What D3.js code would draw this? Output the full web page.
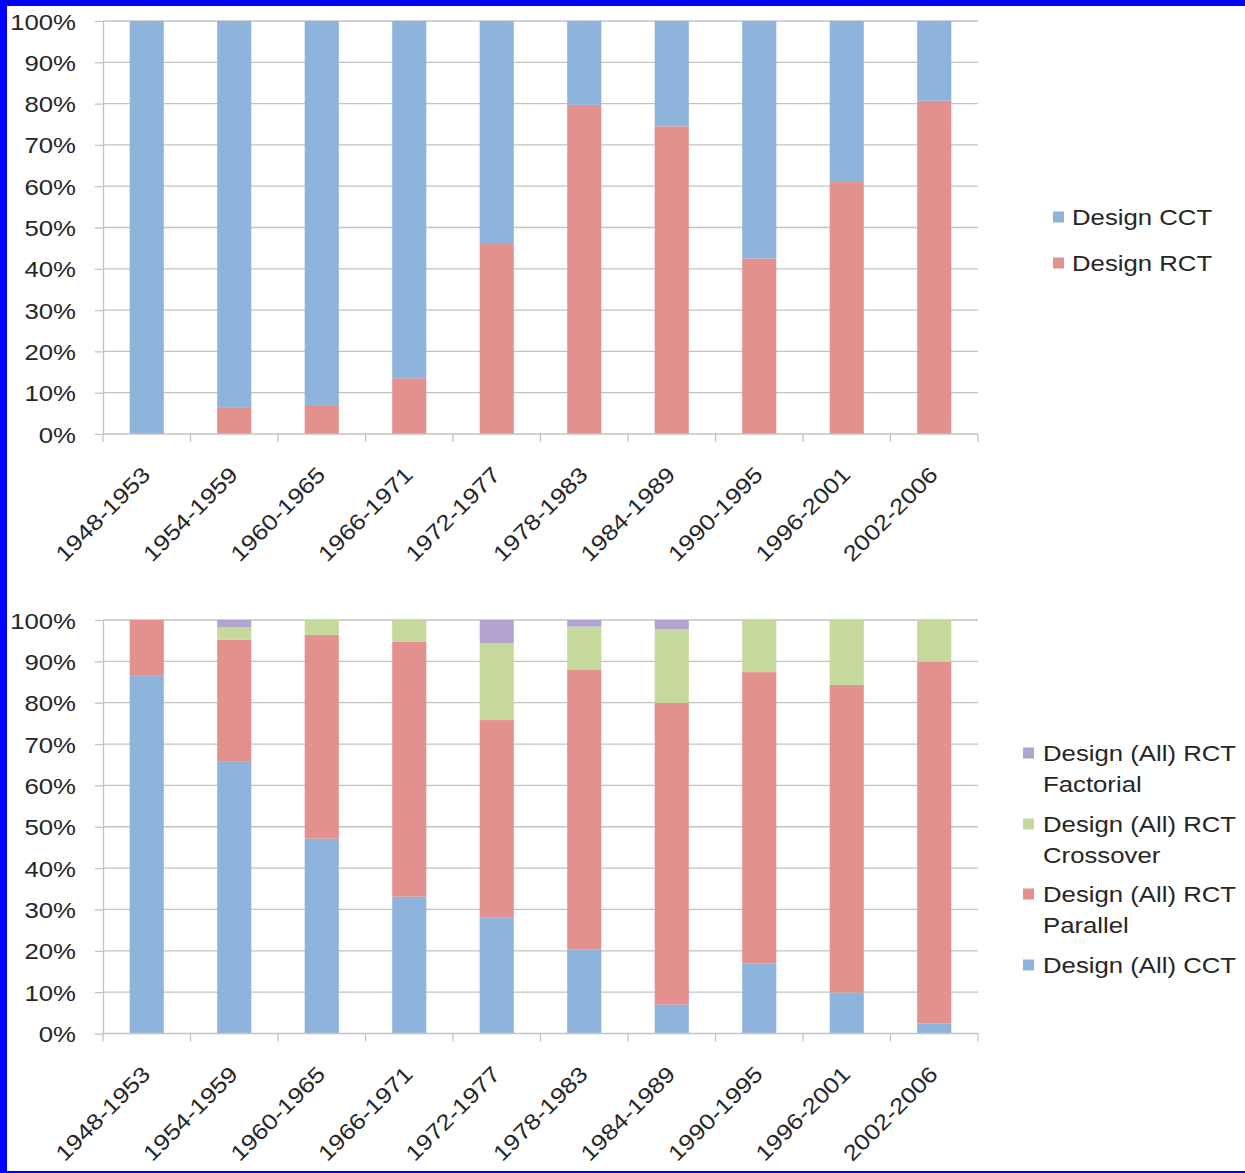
<!DOCTYPE html>
<html>
<head>
<meta charset="utf-8">
<script src="https://cdn.jsdelivr.net/npm/d3@7/dist/d3.min.js"></script>
<style>
  html, body { margin: 0; padding: 0; background: #fff; }
  svg { display: block; }
  text { font-family: "Liberation Sans", Arial, sans-serif; fill: #262626; }
</style>
</head>
<body>
<svg id="fig" width="1245" height="1173"></svg>
<script>
// Period labels shared by both panels
const periods = ["1948-1953", "1954-1959", "1960-1965", "1966-1971", "1972-1977",
                 "1978-1983", "1984-1989", "1990-1995", "1996-2001", "2002-2006"];

// Upper panel: share of trials by design (%)
const designCCT = [100, 93.5, 93, 86.5, 54, 20.3, 25.5, 57.5, 39, 19.3];
const designRCT = [0, 6.5, 7, 13.5, 46, 79.7, 74.5, 42.5, 61, 80.7];

// Lower panel: share of trials by detailed design (%)
const allCCT       = [86.5, 65.7, 47.1, 33.1, 28, 20.3, 7, 16.9, 9.9, 2.4];
const allParallel  = [13.5, 29.5, 49.3, 61.6, 47.8, 67.6, 73, 70.5, 74.4, 87.5];
const allCrossover = [0, 3.1, 3.6, 5.3, 18.6, 10.5, 17.8, 12.6, 15.7, 10.1];
const allFactorial = [0, 1.7, 0, 0, 5.6, 1.6, 2.2, 0, 0, 0];

const yTicks = [0, 10, 20, 30, 40, 50, 60, 70, 80, 90, 100];

const COLORS = {
  cct: "#8fb4dc",
  rct: "#e3918f",
  crossover: "#c6d99c",
  factorial: "#b2a3d1"
};

const GRID = "#c3c3c3";
const STRETCH = 1.17;   // wide text rendering
const FONT = 22;

const svg = d3.select("#fig");

// blue frame
svg.append("rect").attr("x", 0).attr("y", 0).attr("width", 1245).attr("height", 1173).attr("fill", "#0000ff");
svg.append("rect").attr("x", 7).attr("y", 6).attr("width", 1238).attr("height", 1165).attr("fill", "#ffffff");

function panel(opts) {
  const { top, bottom, series, legend } = opts;
  const left = 103, right = 978;

  const x = d3.scaleBand().domain(periods).range([left, right])
    .paddingInner(0.61).paddingOuter(0.305);
  const y = d3.scaleLinear().domain([0, 100]).range([bottom, top]);

  const g = svg.append("g");

  // horizontal gridlines
  g.append("g").selectAll("line").data(yTicks.slice(1)).join("line")
    .attr("x1", left).attr("x2", right)
    .attr("y1", d => y(d)).attr("y2", d => y(d))
    .attr("stroke", GRID).attr("stroke-width", 1.3);

  // stacked bars
  const rows = periods.map((p, i) => {
    const r = { period: p };
    series.forEach(s => { r[s.key] = s.values[i]; });
    return r;
  });
  const stacked = d3.stack().keys(series.map(s => s.key))(rows);
  const colorOf = Object.fromEntries(series.map(s => [s.key, s.color]));

  g.append("g").selectAll("g").data(stacked).join("g")
    .attr("fill", d => colorOf[d.key])
    .selectAll("rect").data(d => d).join("rect")
    .attr("x", d => x(d.data.period))
    .attr("width", x.bandwidth())
    .attr("y", d => y(d[1]))
    .attr("height", d => Math.max(0, y(d[0]) - y(d[1])));

  // y axis
  const yAxis = g.append("g").attr("transform", `translate(${left},0)`)
    .call(d3.axisLeft(y).tickValues(yTicks).tickSize(8).tickSizeOuter(0).tickFormat(d => d + "%"));
  yAxis.select(".domain").attr("stroke", GRID).attr("stroke-width", 1.3);
  yAxis.selectAll(".tick line").attr("stroke", GRID).attr("stroke-width", 1.3);
  yAxis.selectAll(".tick text")
    .attr("x", -27 / STRETCH).attr("dy", null).attr("y", 8)
    .attr("transform", `scale(${STRETCH},1)`)
    .style("font-size", FONT + "px").attr("fill", "#262626")
    .attr("font-family", null);

  // x axis baseline with boundary ticks
  g.append("line").attr("x1", left).attr("x2", right)
    .attr("y1", bottom).attr("y2", bottom)
    .attr("stroke", GRID).attr("stroke-width", 1.3);
  const step = x.step();
  const bounds = d3.range(periods.length + 1).map(i => left + i * step);
  g.append("g").selectAll("line").data(bounds).join("line")
    .attr("x1", d => d).attr("x2", d => d)
    .attr("y1", bottom).attr("y2", bottom + 8)
    .attr("stroke", GRID).attr("stroke-width", 1.3);

  // rotated period labels
  g.append("g").selectAll("text").data(periods).join("text")
    .attr("transform", d => `translate(${x(d) + x.bandwidth() / 2 + 5},${bottom + 42}) rotate(-45) scale(${STRETCH},1)`)
    .attr("text-anchor", "end")
    .style("font-size", FONT + "px")
    .text(d => d);

  // legend
  const lg = g.append("g");
  legend.items.forEach(item => {
    lg.append("rect")
      .attr("x", legend.x).attr("y", item.cy - 5.5)
      .attr("width", 11).attr("height", 11)
      .attr("fill", item.color);
    item.lines.forEach((ln, j) => {
      lg.append("text")
        .attr("transform", `translate(${legend.x + legend.gap},${item.cy + 8 + j * legend.lineH}) scale(${STRETCH},1)`)
        .style("font-size", FONT + "px")
        .text(ln);
    });
  });
}

panel({
  top: 21, bottom: 434,
  series: [
    { key: "Design RCT", values: designRCT, color: COLORS.rct },
    { key: "Design CCT", values: designCCT, color: COLORS.cct }
  ],
  legend: {
    x: 1053, gap: 19, lineH: 30,
    items: [
      { color: COLORS.cct, cy: 217, lines: ["Design CCT"] },
      { color: COLORS.rct, cy: 263, lines: ["Design RCT"] }
    ]
  }
});

panel({
  top: 620, bottom: 1033.5,
  series: [
    { key: "Design (All) CCT", values: allCCT, color: COLORS.cct },
    { key: "Design (All) RCT Parallel", values: allParallel, color: COLORS.rct },
    { key: "Design (All) RCT Crossover", values: allCrossover, color: COLORS.crossover },
    { key: "Design (All) RCT Factorial", values: allFactorial, color: COLORS.factorial }
  ],
  legend: {
    x: 1023, gap: 20, lineH: 31,
    items: [
      { color: COLORS.factorial, cy: 753, lines: ["Design (All) RCT", "Factorial"] },
      { color: COLORS.crossover, cy: 824, lines: ["Design (All) RCT", "Crossover"] },
      { color: COLORS.rct, cy: 894, lines: ["Design (All) RCT", "Parallel"] },
      { color: COLORS.cct, cy: 965, lines: ["Design (All) CCT"] }
    ]
  }
});
</script>
</body>
</html>
